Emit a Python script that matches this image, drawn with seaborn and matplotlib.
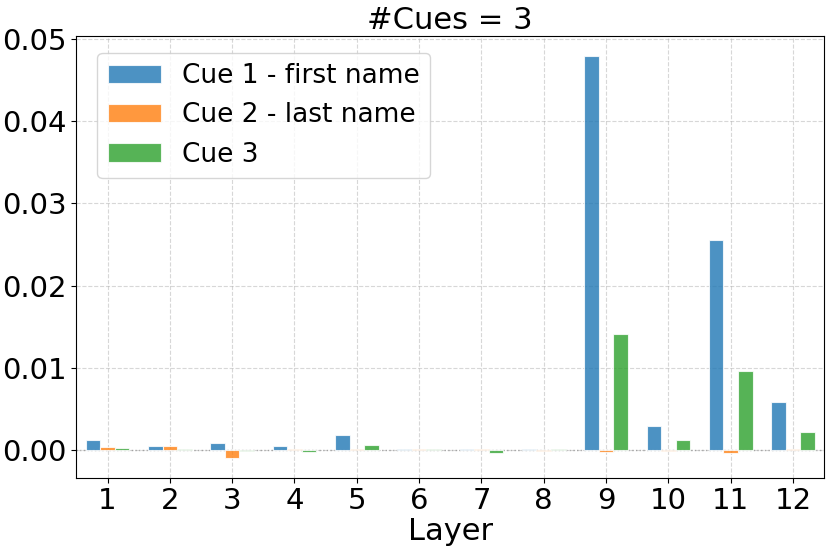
import numpy as np
import pandas as pd
import matplotlib
matplotlib.use('Agg')
import matplotlib.pyplot as plt
import seaborn as sns

layers = ['1', '2', '3', '4', '5', '6', '7', '8', '9', '10', '11', '12']
cue_names = ['Cue 1 - first name', 'Cue 2 - last name', 'Cue 3']
cue1 = [0.0013, 0.0005, 0.00085, 0.0005, 0.0019, 0.0001, 0.0002, 0.0001, 0.0479, 0.0029, 0.0255, 0.0059]
cue2 = [0.0004, 0.0005, -0.0009, 0.0002, 0.0002, 0.0001, 0.0001, -0.0001, -0.0002, -0.0001, -0.0003, 0.0002]
cue3 = [0.00025, 0.0001, -0.00005, -0.0002, 0.00065, 0.0001, -0.0003, 0.0001, 0.0141, 0.0012, 0.0096, 0.00225]
colors = ['#1f77b4', '#ff7f0e', '#2ca02c']

df = pd.DataFrame({
    'Layer': layers * 3,
    'value': cue1 + cue2 + cue3,
    'Cue': [cue_names[0]] * 12 + [cue_names[1]] * 12 + [cue_names[2]] * 12,
})

fig, ax = plt.subplots(figsize=(8.3, 5.51), dpi=100)
sns.barplot(data=df, x='Layer', y='value', hue='Cue', order=layers, hue_order=cue_names,
            palette=colors, saturation=1, alpha=0.8, width=0.7, edgecolor='white',
            linewidth=0.8, errorbar=None, ax=ax, zorder=3)

ax.axhline(0, color='grey', linestyle=':', linewidth=1, alpha=0.6, zorder=2)
ax.grid(True, linestyle='--', alpha=0.5, zorder=0)
ax.set_axisbelow(True)
ax.set_title('#Cues = 3', fontsize=22, pad=5)
ax.set_xlabel('Layer', fontsize=22, labelpad=1)
ax.set_ylabel('')
ax.tick_params(axis='both', labelsize=21)
ax.set_yticks([0.0, 0.01, 0.02, 0.03, 0.04, 0.05])
ax.set_yticklabels(['0.00', '0.01', '0.02', '0.03', '0.04', '0.05'])
ax.margins(y=0.05)
ax.legend(loc='upper left', fontsize=19, bbox_to_anchor=(0.028, 0.962), borderaxespad=0)

plt.subplots_adjust(left=0.092, right=0.993, top=0.935, bottom=0.133)
plt.savefig('out.png', dpi=100)
